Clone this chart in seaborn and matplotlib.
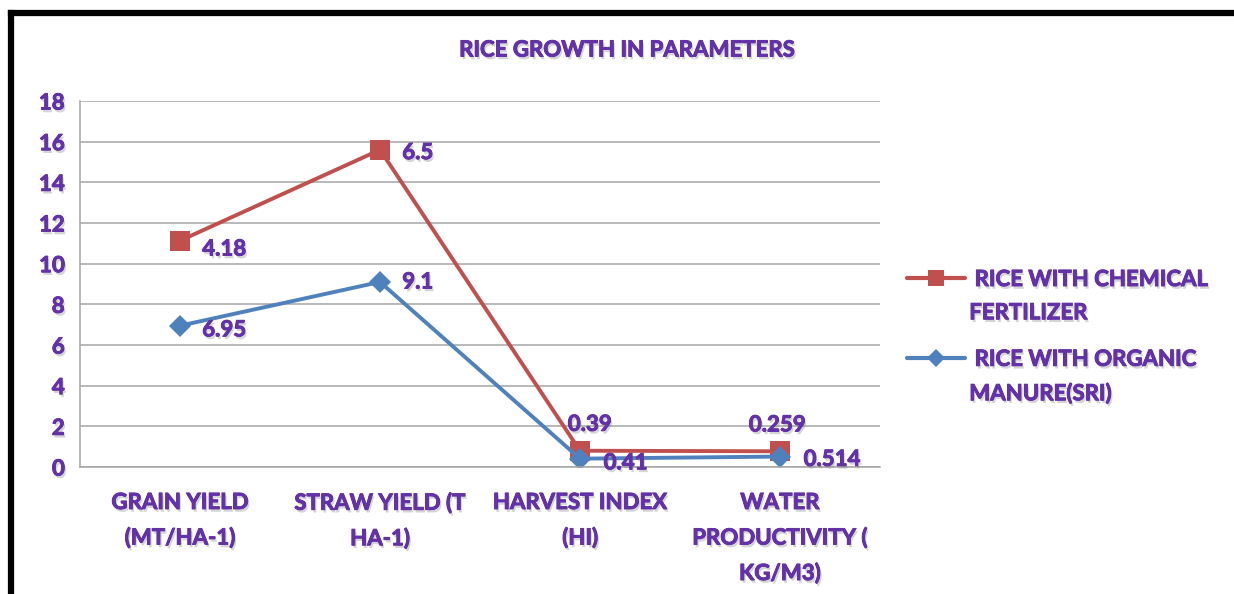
import numpy as np
import pandas as pd
import matplotlib
matplotlib.use("Agg")
import matplotlib.pyplot as plt
import matplotlib.patheffects as pe
from matplotlib.lines import Line2D
from matplotlib.legend_handler import HandlerLine2D
import seaborn as sns

# data (stacked line chart: red line = organic + chemical)
categories = ["GRAIN YIELD\n(MT/HA-1)", "STRAW YIELD (T\nHA-1)", "HARVEST INDEX\n(HI)",
              "WATER\nPRODUCTIVITY (\nKG/M3)"]
organic = [6.95, 9.1, 0.41, 0.514]
chemical = [4.18, 6.5, 0.39, 0.259]
series_names = ["RICE WITH CHEMICAL FERTILIZER", "RICE WITH ORGANIC MANURE(SRI)"]
yticks = [0, 2, 4, 6, 8, 10, 12, 14, 16, 18]

PURPLE = "#6332a6"
RED = "#c0504d"
BLUE = "#4f81bd"
FS = 16
W = "bold"
shadow = [pe.withSimplePatchShadow(offset=(1.2, -2), shadow_rgbFace="#888888", alpha=0.35),
          pe.withStroke(linewidth=0.7, foreground=PURPLE)]


class TopLineHandler(HandlerLine2D):
    # put the legend line next to the first text line, like Excel does
    def create_artists(self, legend, orig_handle, xdescent, ydescent, width, height, fontsize, trans):
        arts = super().create_artists(legend, orig_handle, xdescent, ydescent, width, height, fontsize, trans)
        for a in arts:
            a.set_ydata(np.asarray(a.get_ydata()) + 13.5)
        return arts


sns.set_style("white")
plt.rcParams["font.family"] = ["Lato", "DejaVu Sans"]
plt.rcParams["font.weight"] = "bold"

x = np.arange(len(categories))
stacked = np.array(organic) + np.array(chemical)
df = pd.DataFrame({
    "x": np.concatenate([x, x]),
    "value": np.concatenate([stacked, organic]),
    "series": [series_names[0]] * 4 + [series_names[1]] * 4,
})

fig = plt.figure(figsize=(12.34, 5.94), dpi=100)
ax = fig.add_axes([80 / 1234, 1 - 467 / 594, 800 / 1234, 366 / 594])

sns.lineplot(data=df, x="x", y="value", hue="series", style="series",
             palette=[RED, BLUE], markers=["s", "D"], dashes=False,
             markersize=14, linewidth=2.8, markeredgewidth=0, ax=ax, legend=False)
ax.lines[1].set_markersize(11.5)

ax.set_xlim(-0.5, 3.5)
ax.set_ylim(0, 18)
ax.set_yticks(yticks)
ax.set_xticks(x)
ax.set_xticklabels(categories, linespacing=1.78)
ax.set_xlabel("")
ax.set_ylabel("")
ax.yaxis.grid(True, color="#a6a6a6", linewidth=1.1)
ax.tick_params(axis="both", length=0, labelsize=FS, labelcolor=PURPLE)
ax.tick_params(axis="y", pad=11)
ax.tick_params(axis="x", pad=18)
for t in ax.get_xticklabels() + ax.get_yticklabels():
    t.set_fontweight(W)
    t.set_path_effects(shadow)
for s in ["top", "right"]:
    ax.spines[s].set_visible(False)
for s in ["left", "bottom"]:
    ax.spines[s].set_color("#a6a6a6")
    ax.spines[s].set_linewidth(1.1)

# data labels (offsets in points)
offsets_red = [(16, -6, "left"), (16, -2, "left"), (7, 19, "center"), (-2, 19, "center")]
offsets_blue = [(16, -3, "left"), (16, 0, "left"), (17, -3, "left"), (17, -2, "left")]
for i in range(4):
    for vals, labs, offs in [(stacked, chemical, offsets_red), (organic, organic, offsets_blue)]:
        dx, dy, ha = offs[i]
        ax.annotate(f"{labs[i]:g}", (x[i], vals[i]), xytext=(dx, dy), textcoords="offset points",
                    ha=ha, va="center", fontsize=FS, fontweight=W, color=PURPLE,
                    path_effects=shadow)

fig.text(627 / 1234, 1 - 50 / 594, "RICE GROWTH IN PARAMETERS", ha="center", va="center",
         fontsize=16, fontweight=W, color=PURPLE, path_effects=shadow)

handles = [Line2D([], [], color=RED, marker="s", markersize=12, linewidth=3, markeredgewidth=0),
           Line2D([], [], color=BLUE, marker="D", markersize=9, linewidth=3, markeredgewidth=0)]
leg = fig.legend(handles, [" RICE WITH CHEMICAL\nFERTILIZER", " RICE WITH ORGANIC\nMANURE(SRI)"],
                 loc="upper left", bbox_to_anchor=(887 / 1234, 1 - 249 / 594), frameon=False,
                 handlelength=2.6, handletextpad=0.2, labelspacing=1.15, prop={"size": FS, "weight": W},
                 handler_map={Line2D: TopLineHandler()})
for t in leg.get_texts():
    t.set_color(PURPLE)
    t.set_linespacing(1.72)
    t.set_path_effects(shadow)

# outer frame (only top and left visible in the crop)
fig.add_artist(Line2D([11 / 1234, 11 / 1234], [0, 1 - 13 / 594], color="black", linewidth=4.5,
                      transform=fig.transFigure, solid_capstyle="projecting"))
fig.add_artist(Line2D([11 / 1234, 1], [1 - 13 / 594, 1 - 13 / 594], color="black", linewidth=4.5,
                      transform=fig.transFigure, solid_capstyle="projecting"))

fig.savefig("out.png", dpi=100)
